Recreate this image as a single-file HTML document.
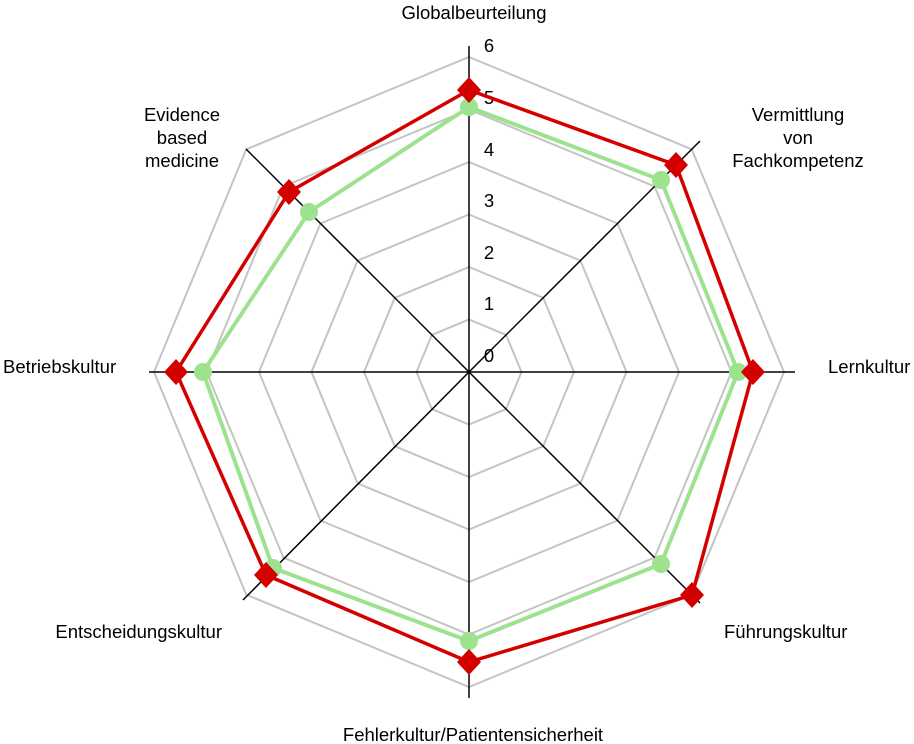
<!DOCTYPE html>
<html><head><meta charset="utf-8"><style>
html,body{margin:0;padding:0;background:#fff;}
svg{display:block;}
text{font-family:"Liberation Sans",sans-serif;font-size:18.5px;fill:#000;}
</style></head><body>
<svg width="914" height="744" viewBox="0 0 914 744">
<g fill="none" stroke="#c4c4c4" stroke-width="2">
<polygon points="469,319.5 506.1,334.9 521.5,372 506.1,409.1 469,424.5 431.9,409.1 416.5,372 431.9,334.9"/>
<polygon points="469,267 543.2,297.8 574,372 543.2,446.2 469,477 394.8,446.2 364,372 394.8,297.8"/>
<polygon points="469,214.5 580.4,260.6 626.5,372 580.4,483.4 469,529.5 357.6,483.4 311.5,372 357.6,260.6"/>
<polygon points="469,162 617.5,223.5 679,372 617.5,520.5 469,582 320.5,520.5 259,372 320.5,223.5"/>
<polygon points="469,109.5 654.6,186.4 731.5,372 654.6,557.6 469,634.5 283.4,557.6 206.5,372 283.4,186.4"/>
<polygon points="469,57 691.7,149.3 784,372 691.7,594.7 469,687 246.3,594.7 154,372 246.3,149.3"/>
</g>
<g stroke="#000" stroke-width="1.5">
<line x1="469" y1="372" x2="469" y2="46"/>
<line x1="469" y1="372" x2="469" y2="698"/>
<line x1="469" y1="372" x2="795" y2="372"/>
<line x1="469" y1="372" x2="149" y2="372"/>
<line x1="469" y1="372" x2="700" y2="141"/>
<line x1="469" y1="372" x2="700" y2="603"/>
<line x1="469" y1="372" x2="243" y2="600"/>
<line x1="469" y1="372" x2="246" y2="149"/>
</g>
<g text-anchor="middle">
<text x="489" y="52">6</text><text x="489" y="104">5</text><text x="489" y="156">4</text>
<text x="489" y="207">3</text><text x="489" y="259">2</text><text x="489" y="310">1</text>
<text x="489" y="362">0</text>
</g>
<polygon fill="none" stroke="#9de38f" stroke-width="4" stroke-linejoin="round" points="469,107 661,180 738,372 661,564 469,641 273,568 203,372 309,212"/>
<g fill="#9de38f">
<circle cx="469" cy="107" r="9"/><circle cx="661" cy="180" r="9"/><circle cx="738" cy="372" r="9"/><circle cx="661" cy="564" r="9"/>
<circle cx="469" cy="641" r="9"/><circle cx="273" cy="568" r="9"/><circle cx="203" cy="372" r="9"/><circle cx="309" cy="212" r="9"/>
</g>
<polygon fill="none" stroke="#d40000" stroke-width="3.5" points="469,90 676,165 753,372 692,595 469,662 266,575 176,372 289,192"/>
<g fill="#d40000">
<polygon points="469,77 481,90 469,103 457,90"/>
<polygon points="676,152 688,165 676,178 664,165"/>
<polygon points="753,359 765,372 753,385 741,372"/>
<polygon points="692,582 704,595 692,608 680,595"/>
<polygon points="469,649 481,662 469,675 457,662"/>
<polygon points="266,562 278,575 266,588 254,575"/>
<polygon points="176,359 188,372 176,385 164,372"/>
<polygon points="289,179 301,192 289,205 277,192"/>
</g>
<g text-anchor="middle">
<text x="474" y="19">Globalbeurteilung</text>
<text x="798" y="121">Vermittlung</text>
<text x="798" y="144">von</text>
<text x="798" y="167">Fachkompetenz</text>
<text x="182" y="121">Evidence</text>
<text x="182" y="144">based</text>
<text x="182" y="167">medicine</text>
<text x="473" y="741">Fehlerkultur/Patientensicherheit</text>
</g>
<text x="828" y="373">Lernkultur</text>
<text x="3" y="373">Betriebskultur</text>
<text x="724" y="638">Führungskultur</text>
<text x="222" y="638" text-anchor="end">Entscheidungskultur</text>
</svg>
</body></html>
